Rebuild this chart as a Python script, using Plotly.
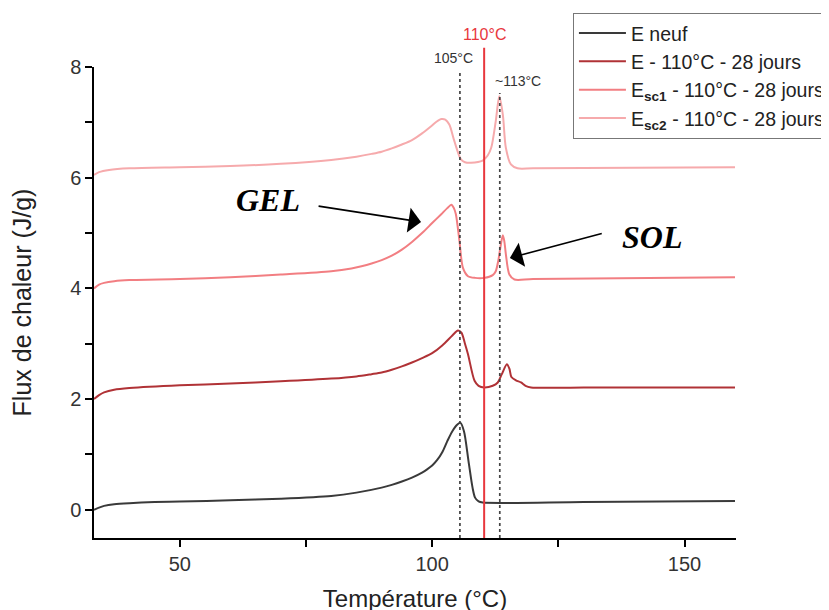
import plotly.graph_objects as go

# ---- data ----
temp_neuf = [33, 34, 35, 37, 40, 45, 50, 60, 70, 80, 85, 90, 92, 94, 96, 98, 99, 100, 101, 102, 103, 104, 105, 105.6, 106.3, 107.2, 108, 108.5, 109.2, 110, 130, 160]
flux_neuf = [0.0, 0.04, 0.07, 0.1, 0.12, 0.14, 0.15, 0.17, 0.2, 0.25, 0.31, 0.40, 0.45, 0.51, 0.58, 0.67, 0.73, 0.80, 0.90, 1.04, 1.24, 1.42, 1.54, 1.57, 1.42, 0.88, 0.4, 0.22, 0.15, 0.13, 0.14, 0.16]

temp_e110 = [33, 34, 35, 37, 40, 50, 60, 70, 80, 85, 88, 90, 92, 94, 96, 98, 100, 102, 104, 105.1, 105.8, 106.5, 107.1, 108.4, 109.2, 110.3, 112, 113, 113.8, 114.8, 115.3, 115.7, 116.6, 117.6, 118.5, 119.6, 130, 160]
flux_e110 = [2.0, 2.07, 2.12, 2.17, 2.2, 2.25, 2.28, 2.32, 2.37, 2.41, 2.45, 2.48, 2.53, 2.59, 2.66, 2.74, 2.83, 2.97, 3.15, 3.24, 3.2, 3.0, 2.81, 2.33, 2.24, 2.21, 2.24, 2.30, 2.45, 2.63, 2.55, 2.40, 2.34, 2.30, 2.24, 2.21, 2.21, 2.21]

temp_sc1 = [33, 34, 35, 37, 40, 50, 60, 70, 80, 84, 86, 88, 90, 92, 94, 96, 98, 100, 101.8, 103, 103.8, 104.3, 104.7, 105.4, 106.1, 107.1, 108.5, 110.3, 112, 112.6, 113.1, 113.5, 114, 114.3, 114.6, 115.3, 116.3, 120, 160]
flux_sc1 = [4.0, 4.07, 4.1, 4.13, 4.15, 4.17, 4.2, 4.25, 4.31, 4.36, 4.40, 4.45, 4.51, 4.59, 4.70, 4.84, 5.0, 5.18, 5.34, 5.45, 5.51, 5.45, 5.34, 4.86, 4.37, 4.22, 4.19, 4.19, 4.24, 4.31, 4.5, 4.73, 4.96, 4.85, 4.62, 4.25, 4.16, 4.17, 4.2]

temp_sc2 = [33, 34, 36, 40, 50, 60, 70, 80, 85, 88, 90, 92, 94, 96, 98, 99.8, 101, 101.8, 102.6, 103.4, 104.4, 105.7, 106.5, 107.7, 110, 111, 111.7, 112.6, 113.3, 114, 114.6, 115.6, 116.9, 120, 160]
flux_sc2 = [6.05, 6.1, 6.14, 6.17, 6.19, 6.21, 6.25, 6.32, 6.38, 6.43, 6.47, 6.53, 6.6, 6.68, 6.8, 6.93, 7.02, 7.06, 7.05, 6.96, 6.66, 6.33, 6.28, 6.27, 6.31, 6.4, 6.54, 7.02, 7.47, 7.14, 6.54, 6.24, 6.17, 6.17, 6.19]

series_names = ["E neuf", "E - 110°C - 28 jours",
                "E<sub><b>sc1</b></sub> - 110°C - 28 jours",
                "E<sub><b>sc2</b></sub> - 110°C - 28 jours"]
series_colors = ["#3a3a3a", "#b03236", "#f27e82", "#f6aaac"]

ref_dotted = [105.5, 113.4]
ref_red = 110.3
ref_labels = ["105°C", "110°C", "~113°C"]

x_ticks = [50, 100, 150]
y_ticks = [0, 2, 4, 6, 8]

FONT = "Arial, Liberation Sans, sans-serif"
SERIF = "Times New Roman, Liberation Serif, serif"

fig = go.Figure()
for xs, ys, name, col in zip([temp_neuf, temp_e110, temp_sc1, temp_sc2],
                             [flux_neuf, flux_e110, flux_sc1, flux_sc2],
                             series_names, series_colors):
    fig.add_trace(go.Scatter(x=xs, y=ys, mode="lines", name=name,
                             line=dict(color=col, width=2, shape="spline", smoothing=0.8)))

# reference lines
for xv, top in zip(ref_dotted, [0.991, 0.945]):
    fig.add_shape(type="line", xref="x", yref="paper", x0=xv, x1=xv, y0=0, y1=top,
                  line=dict(color="#444444", width=1.7, dash="dot"))
fig.add_shape(type="line", xref="x", yref="paper", x0=ref_red, x1=ref_red, y0=0, y1=1.041,
              line=dict(color="#e8373d", width=2))

fig.add_annotation(x=ref_red, y=1.068, xref="x", yref="paper", yanchor="middle", text=ref_labels[1],
                   showarrow=False, font=dict(family=FONT, size=16, color="#e8373d"))
fig.add_annotation(x=104.2, y=1.02, xref="x", yref="paper", yanchor="middle", text=ref_labels[0],
                   showarrow=False, font=dict(family=FONT, size=14, color="#333333"))
fig.add_annotation(x=117.1, y=0.970, xref="x", yref="paper", yanchor="middle", text=ref_labels[2],
                   showarrow=False, font=dict(family=FONT, size=14, color="#333333"))

fig.add_annotation(x=67.4, y=5.6, text="<b><i>GEL</i></b>", showarrow=False,
                   font=dict(family=SERIF, size=32, color="black"))
fig.add_annotation(x=143.6, y=4.93, text="<b><i>SOL</i></b>", showarrow=False,
                   font=dict(family=SERIF, size=32, color="black"))
fig.add_annotation(x=97.8, y=5.20, ax=77.2, ay=5.49, axref="x", ayref="y", text="",
                   showarrow=True, arrowhead=1, arrowsize=2.6, arrowwidth=1.6, arrowcolor="black")
fig.add_annotation(x=115.4, y=4.55, ax=133.9, ay=5.0, axref="x", ayref="y", text="",
                   showarrow=True, arrowhead=1, arrowsize=2.6, arrowwidth=1.6, arrowcolor="black")

# the page body has an ~8px margin, so the plot margins are offset to land the axes where the reference has them
fig.update_layout(
    width=829, height=610,
    margin=dict(l=86, r=101, t=59, b=80, autoexpand=False),
    plot_bgcolor="white", paper_bgcolor="white",
    font=dict(family=FONT, size=20, color="#333333"),
    showlegend=True,
    legend=dict(x=0.746, y=1.115, xanchor="left", yanchor="top",
                bordercolor="#777777", borderwidth=1, bgcolor="white",
                font=dict(family=FONT, size=19.5, color="#222222"),
                tracegroupgap=0, itemwidth=47),
)
fig.update_xaxes(range=[33, 160.2], tickvals=x_ticks, ticks="outside", ticklen=7, tickwidth=1.5,
                 tickcolor="black", showline=True, linecolor="black", linewidth=1.5,
                 showgrid=False, zeroline=False,
                 minor=dict(tickvals=[75, 125], ticks="outside", ticklen=7, tickwidth=1.5, tickcolor="black"),
                 title=dict(text="Température (°C)", font=dict(family=FONT, size=24, color="#222222"), standoff=16),
                 tickfont=dict(family=FONT, size=20, color="#333333"))
fig.update_yaxes(range=[-0.51, 8.0], tickvals=y_ticks, ticks="outside", ticklen=7, tickwidth=1.5,
                 tickcolor="black", showline=True, linecolor="black", linewidth=1.5,
                 showgrid=False, zeroline=False,
                 minor=dict(tickvals=[1, 3, 5, 7], ticks="outside", ticklen=7, tickwidth=1.5, tickcolor="black"),
                 title=dict(text="Flux de chaleur (J/g)", font=dict(family=FONT, size=25, color="#222222"), standoff=32),
                 tickfont=dict(family=FONT, size=20, color="#333333"))

fig.write_html("out.html")
